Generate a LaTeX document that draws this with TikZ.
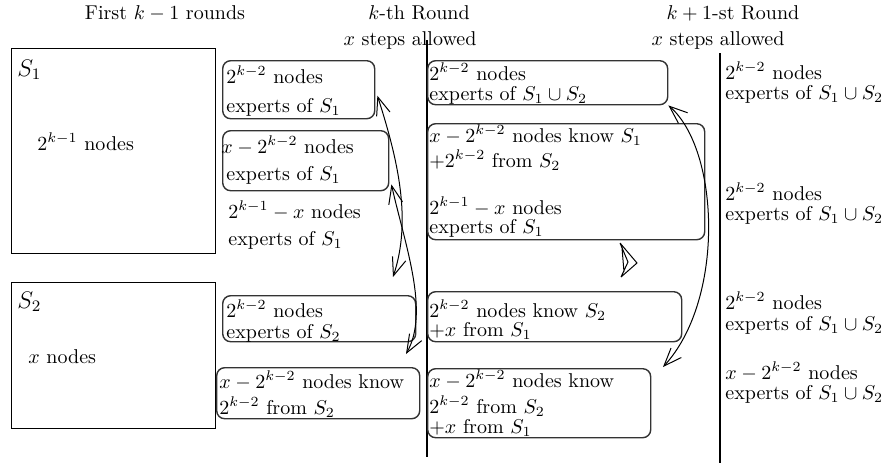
\documentclass[tikz,border=0pt]{standalone}
\usepackage{amsmath,amssymb}
\usepackage{tikz}
\usetikzlibrary{arrows.meta}

\begin{document}
\begin{tikzpicture}[
  x=0.5pt, y=-0.5pt,
  every node/.style={font=\normalsize},
  setBox/.style={draw, line width=0.7pt, anchor=north west, inner sep=0pt},
  grpBox/.style={draw=black!80, line width=0.7pt, rounded corners=4pt, anchor=north west, inner sep=0pt},
  txt/.style={anchor=base west, inner sep=0pt},
  head/.style={anchor=base, inner sep=0pt},
  divider/.style={line width=0.7pt},
  exch/.style={line width=0.5pt, {Straight Barb[length=9pt,width=7pt]}-{Straight Barb[length=9pt,width=7pt]}}
]
  \useasboundingbox (0,0) rectangle (884,463);

  % Column headers
  \node[head] (hFirst) at (165,19) {First $k-1$ rounds};
  \node[head] (hKth) at (419,19) {$k$-th Round};
  \node[head] (hKthSteps) at (410,45) {$x$ steps allowed};
  \node[head] (hNext) at (733,19) {$k+1$-st Round};
  \node[head] (hNextSteps) at (718,45) {$x$ steps allowed};

  % Dividers
  \draw[divider] (427,40) -- (427,457);
  \draw[divider] (720,53) -- (720,463);

  % Sets after k-1 rounds
  \node[setBox, minimum width=102pt, minimum height=102.5pt] (s1) at (11,48) {};
  \node[txt, font=\large] (s1Name) at (17,76) {$S_1$};
  \node[txt] (s1Size) at (37,150) {$2^{k-1}$ nodes};
  \node[setBox, minimum width=102pt, minimum height=73pt] (s2) at (11,282) {};
  \node[txt, font=\large] (s2Name) at (17,308) {$S_2$};
  \node[txt] (s2Size) at (28,363) {$x$ nodes};

  % Groups before the k-th round
  \node[grpBox, minimum width=76pt, minimum height=29pt] (a1) at (222,60) {};
  \node[txt] (a1l1) at (226,83) {$2^{k-2}$ nodes};
  \node[txt] (a1l2) at (226,112) {experts of $S_1$};
  \node[grpBox, minimum width=83pt, minimum height=30pt] (a2) at (222,130) {};
  \node[txt] (a2l1) at (221,153) {$x-2^{k-2}$ nodes};
  \node[txt] (a2l2) at (226,180) {experts of $S_1$};
  \node[txt] (a3l1) at (228,218) {$2^{k-1}-x$ nodes};
  \node[txt] (a3l2) at (228,245) {experts of $S_1$};
  \node[grpBox, minimum width=96.5pt, minimum height=23pt] (a4) at (222,295) {};
  \node[txt] (a4l1) at (226,317) {$2^{k-2}$ nodes};
  \node[txt] (a4l2) at (226,338) {experts of $S_2$};
  \node[grpBox, minimum width=101.5pt, minimum height=25.5pt] (a5) at (216,367) {};
  \node[txt] (a5l1) at (219,388) {$x-2^{k-2}$ nodes know};
  \node[txt] (a5l2) at (219,414) {$2^{k-2}$ from $S_2$};

  % Groups after the k-th round
  \node[grpBox, minimum width=120pt, minimum height=22pt] (b1) at (427,60) {};
  \node[txt] (b1l1) at (429,80) {$2^{k-2}$ nodes};
  \node[txt] (b1l2) at (429,100) {experts of $S_1\cup S_2$};
  \node[grpBox, minimum width=138.5pt, minimum height=58pt] (b2) at (427,123) {};
  \node[txt] (b2l1) at (429,142) {$x-2^{k-2}$ nodes know $S_1$};
  \node[txt] (b2l2) at (429,167) {$+2^{k-2}$ from $S_2$};
  \node[txt] (b2l3) at (429,214) {$2^{k-1}-x$ nodes};
  \node[txt] (b2l4) at (429,233) {experts of $S_1$};
  \node[grpBox, minimum width=127pt, minimum height=25pt] (b3) at (427,291) {};
  \node[txt] (b3l1) at (429,317) {$2^{k-2}$ nodes know $S_2$};
  \node[txt] (b3l2) at (429,336) {$+x$ from $S_1$};
  \node[grpBox, minimum width=111.5pt, minimum height=34.5pt] (b4) at (427,368) {};
  \node[txt] (b4l1) at (429,387) {$x-2^{k-2}$ nodes know};
  \node[txt] (b4l2) at (429,413) {$2^{k-2}$ from $S_2$};
  \node[txt] (b4l3) at (429,433) {$+x$ from $S_1$};

  % After the k+1-st round
  \node[txt] (c1l1) at (725,79) {$2^{k-2}$ nodes};
  \node[txt] (c1l2) at (725,99) {experts of $S_1\cup S_2$};
  \node[txt] (c2l1) at (725,200) {$2^{k-2}$ nodes};
  \node[txt] (c2l2) at (725,220) {experts of $S_1\cup S_2$};
  \node[txt] (c3l1) at (725,309) {$2^{k-2}$ nodes};
  \node[txt] (c3l2) at (725,330) {experts of $S_1\cup S_2$};
  \node[txt] (c4l1) at (725,379) {$x-2^{k-2}$ nodes};
  \node[txt] (c4l2) at (725,399) {experts of $S_1\cup S_2$};

  % Exchanges
  \coordinate (a1x) at ([shift={(1pt,-3pt)}]a1.east);
  \coordinate (a2x) at ([shift={(1pt,3.5pt)}]a2.south east);
  \coordinate (e1) at (393,277);
  \coordinate (e2) at (406,354);
  \coordinate (e3) at (663,367);
  \draw[exch] (a1x) .. controls (398,160) and (412,220) .. (e1);
  \draw[exch] (a2x) .. controls (405,245) and (430,312) .. (e2);
  \draw[exch] (b1.south east) .. controls (720,150) and (725,300) .. (e3);

  % stray mark
  \draw[line width=0.5pt] (620,243) -- (637,263) -- (621,277)
    (620,243) -- (628,262) -- (621,277) (622,248) -- (624,272);
\end{tikzpicture}
\end{document}
